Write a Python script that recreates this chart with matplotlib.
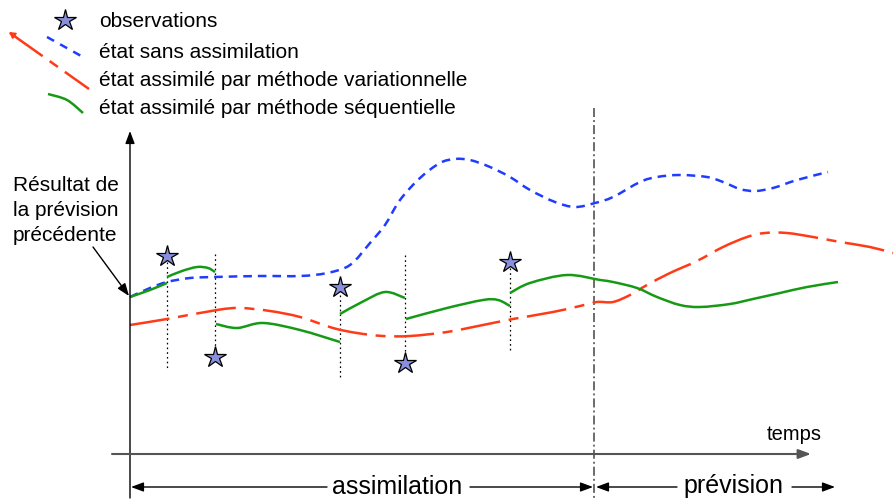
import matplotlib
matplotlib.use('Agg')
import matplotlib.pyplot as plt
from matplotlib.path import Path
from matplotlib.patches import PathPatch, FancyArrowPatch
import numpy as np

plt.rcParams['font.family'] = ['Liberation Sans', 'DejaVu Sans']
plt.rcParams['lines.scale_dashes'] = False

# ---- data (time axis to the right, state value grows downward on screen) ----
blue_t = [130, 150, 167, 190, 215, 260, 300, 327, 350, 370, 385, 400, 420, 440, 455, 470, 490, 510,
          530, 555, 575, 595, 613, 640, 657, 680, 707, 723, 740, 755, 773, 797, 828]
blue_v = [297, 288, 282, 278, 277, 276, 276, 273, 265, 243, 225, 200, 178, 163, 159, 160, 167, 177,
          190, 202, 207, 203, 197, 182, 177, 175, 177, 182, 189, 191, 188, 180, 172]

red_t = [130, 167, 217, 240, 270, 300, 333, 357, 383, 410, 447, 483, 513, 553, 580, 597, 613, 630,
         647, 670, 697, 723, 747, 765, 787, 813, 840, 870, 893]
red_v = [325, 319, 310, 308, 311, 317, 328, 333, 336, 336, 332, 325, 319, 312, 306, 302, 302, 295,
         285, 273, 261, 247, 237, 233, 233, 237, 242, 247, 253]

green_t = [
    [130, 150, 167],
    [167, 182, 197, 208, 215],
    [216, 237, 263, 300, 340],
    [340, 362, 385, 405],
    [406, 447, 483, 498, 510],
    [510, 530, 567, 600, 613, 637, 657, 680, 700, 730, 753, 780, 807, 838],
]
green_v = [
    [297, 290, 283],
    [277, 271, 267, 268, 272],
    [324, 328, 323, 330, 342],
    [314, 302, 292, 298],
    [319, 308, 300, 300, 306],
    [293, 283, 275, 280, 282, 288, 297, 305, 307, 304, 299, 293, 287, 282],
]

obs_t = [167, 215, 340, 405, 510]
obs_v = [256, 357, 287, 363, 262]
obs_line_top = [262, 254, 295, 255, 268]
obs_line_bot = [368, 352, 378, 357, 353]

t_assim_end = 594

legend_labels = ["observations", "état sans assimilation",
                 "état assimilé par méthode variationnelle",
                 "état assimilé par méthode séquentielle"]

BLUE = '#1f3dff'
RED = '#ff3a17'
GREEN = '#169a16'
STAR = '#8a8fdb'
LW = 1.8

fig = plt.figure(figsize=(8.94, 5.01), dpi=100)
ax = fig.add_axes([0, 0, 1, 1])
ax.set_xlim(0, 894)
ax.set_ylim(501, 0)
ax.axis('off')


def smooth_path(xs, ys):
    pts = np.column_stack([xs, ys]).astype(float)
    verts = [pts[0]]
    codes = [Path.MOVETO]
    n = len(pts)
    for i in range(n - 1):
        p0 = pts[i - 1] if i > 0 else pts[i]
        p1 = pts[i]
        p2 = pts[i + 1]
        p3 = pts[i + 2] if i + 2 < n else pts[i + 1]
        c1 = p1 + (p2 - p0) / 6.0
        c2 = p2 - (p3 - p1) / 6.0
        verts += [c1, c2, p2]
        codes += [Path.CURVE4] * 3
    return Path(verts, codes)


def curve(xs, ys, color, ls='-', lw=LW, z=3):
    ax.add_patch(PathPatch(smooth_path(xs, ys), fill=False, edgecolor=color,
                           linewidth=lw, linestyle=ls, capstyle='butt', zorder=z))


def arrow(p_from, p_to, color='black', lw=1.0, hl=0.75, hw=0.28):
    ax.add_patch(FancyArrowPatch(p_from, p_to,
                                 arrowstyle=f'-|>,head_length={hl},head_width={hw}',
                                 mutation_scale=10, color=color, lw=lw,
                                 shrinkA=0, shrinkB=0, zorder=5))


blue_ls = (0, (6.2, 4.3))
red_ls = (0, (28.8, 6.2, 7.2, 6.2))

# curves
curve(blue_t, blue_v, BLUE, blue_ls, z=2)
curve(red_t, red_v, RED, red_ls, z=3)
for gt, gv in zip(green_t, green_v):
    curve(gt, gv, GREEN, '-', z=4)

# observations: dotted verticals and stars
for t, top, bot in zip(obs_t, obs_line_top, obs_line_bot):
    ax.plot([t, t], [top, bot], color='black', lw=0.9, ls=(0, (1.2, 2.2)), zorder=1)
ax.plot(obs_t, obs_v, ls='none', marker='*', markersize=16, markerfacecolor=STAR,
        markeredgecolor='black', markeredgewidth=0.9, zorder=6)

# axes
arrow((130, 498), (130, 131), lw=1.0)
arrow((112, 454), (811, 454), color='#555555', lw=1.5)
ax.text(767, 440, "temps", fontsize=14.5, ha='left', va='baseline')

# end of assimilation / start of forecast
ax.plot([t_assim_end, t_assim_end], [108, 498], color='#444444', lw=1.1,
        ls=(0, (6.5, 2.2, 1.4, 2.2)), zorder=1)

# bottom period arrows
arrow((327, 487), (131, 487))
arrow((470, 487), (593, 487))
arrow((677, 487), (596, 487))
arrow((792, 487), (835, 487))
ax.text(397, 494, "assimilation", fontsize=18, ha='center', va='baseline')
ax.text(733, 493, "prévision", fontsize=18, ha='center', va='baseline')

# annotation of initial state
for txt, yb in zip(["Résultat de", "la prévision", "précédente"], [191, 216, 241]):
    ax.text(13, yb, txt, fontsize=15, ha='left', va='baseline')
arrow((93, 247), (129, 296), lw=1.0)

# legend
ax.plot([65], [20], ls='none', marker='*', markersize=16, markerfacecolor=STAR,
        markeredgecolor='black', markeredgewidth=0.9)
ax.plot([47, 83], [37, 57], color=BLUE, lw=LW, ls=(0, (5.8, 5.0)), solid_capstyle='butt',
        dash_capstyle='butt')
ax.plot([10, 89], [33, 89], color=RED, lw=LW, ls=(0, (28.8, 6.2, 7.2, 6.2)),
        dash_capstyle='butt')
arrow((16, 37), (9, 32), color=RED, lw=1.2, hl=0.35, hw=0.2)
curve([48, 67, 83], [94, 100, 113], GREEN, '-')
for lab, yb in zip(legend_labels, [27, 58, 86, 114]):
    ax.text(99, yb, lab, fontsize=15, ha='left', va='baseline')

fig.savefig('out.png', dpi=100)
